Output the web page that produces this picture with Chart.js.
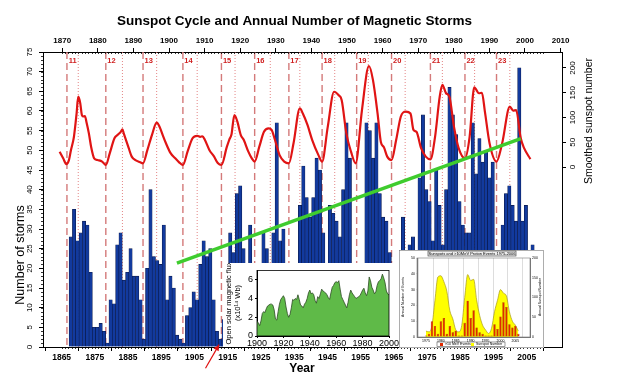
<!DOCTYPE html>
<html>
<head>
<meta charset="utf-8">
<script src="https://cdn.jsdelivr.net/npm/chart.js@4.4.1/dist/chart.umd.min.js"></script>
<style>
  html, body { margin: 0; padding: 0; background: #fff; }
  #wrap { position: relative; width: 618px; height: 386px; }
  #wrap canvas { position: absolute; }
  #fluxBox { position: absolute; left: 223px; top: 263px; width: 177px; height: 84px; background: #fff; }
  #protonBox { position: absolute; left: 399px; top: 250px; width: 145px; height: 98px; background: #fff; }
</style>
</head>
<body>
<div id="wrap">
  <canvas id="main" width="618" height="386"></canvas>
  <div id="fluxBox"><canvas id="flux" width="177" height="84"></canvas></div>
  <div id="protonBox"><canvas id="proton" width="145" height="98"></canvas></div>
</div>
<script>
// ---- main chart data ----
const stormStartYear = 1868;
const stormCounts = [
  28, 35, 27, 29, 32, 31, 19, 5, 5, 6,
  4, 1, 12, 11, 26, 29, 17, 19, 25, 18,
  18, 12, 2, 20, 40, 23, 22, 21, 31, 12,
  18, 15, 3, 2, 1, 8, 10, 14, 12, 21,
  27, 23, 25, 12, 4, 2, 7, 16, 29, 24,
  39, 41, 25, 15, 31, 12, 8, 10, 29, 25,
  15, 29, 57, 27, 30, 12, 6, 10, 18, 36,
  46, 38, 33, 38, 48, 45, 29, 16, 36, 34,
  32, 28, 40, 57, 48, 18, 14, 10, 20, 57,
  55, 48, 57, 39, 33, 32, 24, 10, 8, 12,
  33, 18, 26, 28, 15, 43, 59, 40, 37, 27,
  45, 36, 26, 40, 66, 59, 54, 37, 31, 29,
  29, 57, 44, 53, 47, 50, 43, 47, 15, 20,
  31, 39, 41, 36, 32, 71, 32, 36, 24, 26
];

const sunspotYears = [
  1864.4, 1865.5, 1866.4, 1867.2, 1867.8, 1868.7, 1869.5, 1870.0, 1870.6, 1871.1,
  1871.6, 1872.0, 1872.5, 1873.2, 1873.9, 1874.8, 1875.8, 1877.2, 1878.3, 1879.5,
  1880.9, 1881.9, 1882.8, 1883.3, 1883.7, 1884.2, 1885.2, 1886.1, 1887.5, 1888.5,
  1889.5, 1890.8, 1892.2, 1893.6, 1894.5, 1895.4, 1896.4, 1897.8, 1899.2, 1900.3,
  1901.5, 1902.9, 1904.4, 1905.8, 1906.7, 1907.4, 1908.1, 1909.5, 1910.9, 1912.0,
  1913.1, 1914.7, 1915.5, 1916.1, 1917.0, 1917.9, 1918.9, 1919.8, 1921.2, 1922.2,
  1923.1, 1924.5, 1925.9, 1927.3, 1928.2, 1929.2, 1930.6, 1932.0, 1933.4, 1934.8,
  1936.7, 1937.6, 1939.0, 1940.4, 1942.3, 1943.4, 1945.1, 1947.0, 1948.4, 1949.3,
  1950.7, 1952.1, 1953.5, 1955.4, 1957.5, 1958.7, 1960.1, 1961.1, 1962.0, 1963.0,
  1964.3, 1965.7, 1967.1, 1968.6, 1970.0, 1970.9, 1971.8, 1973.2, 1974.6, 1976.0,
  1977.4, 1978.8, 1979.6, 1980.7, 1981.7, 1983.1, 1984.5, 1986.4, 1987.8, 1989.2,
  1990.6, 1991.5, 1992.4, 1993.8, 1995.9, 1997.6, 1999.9, 2000.9, 2001.8, 2003.2,
  2004.2, 2006.1
];
const sunspotValues = [
  31, 17, 6, 14, 34, 61, 108, 142, 129, 105,
  102, 103, 90, 68, 40, 17.5, 14, 11, 4, 28,
  58, 65, 71, 76, 68, 58, 38, 21, 13, 10,
  7.5, 34, 65, 89.5, 81, 65, 48, 28, 17.5, 10,
  4, 31, 58, 63, 61, 62, 55, 34, 21, 8,
  4, 40, 56, 65, 105, 91.5, 65, 55, 31, 18,
  11, 41, 71, 78, 75, 55, 24, 11, 7.5, 48,
  118.5, 108, 85, 55, 24, 11, 81, 152, 145, 135,
  68, 31, 7.5, 115, 204, 176, 108, 50, 40, 21,
  14, 55, 102, 112, 108, 75, 71, 38, 21, 15.5,
  61, 142, 166, 149, 142, 81, 38, 17.5, 61, 161,
  149, 150, 112, 48, 11, 48, 122, 114, 115, 58,
  38, 16
];

const cycleNumbers = [11, 12, 13, 14, 15, 16, 17, 18, 19, 20, 21, 22, 23];
const cycleMinYears = [1866.6, 1878.3, 1889.5, 1901.5, 1913.1, 1923.1, 1933.4, 1943.4, 1953.8, 1964.3, 1976.0, 1986.4, 1995.9];
const cycleMaxYears = [1870.0, 1883.3, 1893.6, 1905.8, 1917.2, 1927.8, 1936.7, 1947.2, 1957.3, 1968.4, 1979.6, 1989.3, 1999.9];

const trendYears = [1899.7, 2003.2];
const trendValues = [21.3, 53];

const bottomTicks = [1865, 1875, 1885, 1895, 1905, 1915, 1925, 1935, 1945, 1955, 1965, 1975, 1985, 1995, 2005];
const topTicks = [1870, 1880, 1890, 1900, 1910, 1920, 1930, 1940, 1950, 1960, 1970, 1980, 1990, 2000, 2010];
const stormTicks = [0, 5, 10, 15, 20, 25, 30, 35, 40, 45, 50, 55, 60, 65, 70, 75];
const sunspotTicks = [0, 50, 100, 150, 200];

// ---- inset 1: open solar flux ----
const fluxYears = [];
for (let y = 1900; y <= 2000; y++) fluxYears.push(y);
const fluxValues = [
  1.6, 1.4, 1.1, 1.6, 2.4, 2.6, 2.5, 2.9, 3.2, 3.3,
  3.4, 3.4, 3.3, 2.8, 1.8, 1.7, 2.6, 3.4, 3.9, 4.1,
  4.3, 4.0, 3.1, 2.4, 2.0, 2.3, 3.0, 3.9, 3.8, 4.0,
  3.9, 4.4, 3.9, 3.3, 3.2, 3.0, 3.4, 3.6, 4.0, 4.6,
  4.9, 4.5, 4.6, 4.4, 3.8, 3.5, 4.2, 4.0, 4.5, 5.0,
  4.8, 4.7, 4.6, 4.4, 4.1, 3.9, 4.6, 5.2, 5.4, 5.7,
  5.8, 5.7, 5.9, 5.0, 4.2, 3.9, 3.6, 3.3, 3.0, 3.6,
  4.4, 4.9, 4.6, 4.4, 4.2, 4.0, 4.1, 4.2, 4.3, 4.6,
  4.9, 5.1, 4.6, 4.3, 4.8, 6.3, 5.9, 5.2, 4.9, 4.5,
  4.7, 5.4, 5.8, 5.9, 6.1, 6.6, 6.2, 5.7, 4.8, 4.5,
  4.4
];
const fluxTicksX = [1900, 1920, 1940, 1960, 1980, 2000];
const fluxTicksY = [0, 2, 4, 6];

// ---- inset 2: sunspots and proton events ----
const protonYears = [];
for (let y = 1975; y <= 2006; y++) protonYears.push(y);
const protonEvents = [1, 2, 10, 7, 2, 10, 12, 2, 7, 3, 4, 1, 1, 9, 23, 12, 17, 6, 3, 2, 1, 1, 1, 8, 5, 13, 22, 19, 8, 6, 7, 2];
const insetSunspots = [15, 13, 28, 92, 152, 155, 140, 116, 67, 46, 18, 13, 29, 100, 158, 143, 146, 94, 55, 30, 18, 9, 22, 64, 93, 120, 111, 104, 64, 40, 30, 15];
const protonTicksX = [1975, 1980, 1985, 1990, 1995, 2000, 2005];
const protonTicksL = [0, 10, 20, 30, 40, 50];
const protonTicksR = [0, 50, 100, 150, 200];

const FONT = '"Liberation Sans", Arial, Helvetica, sans-serif';
Chart.defaults.font.family = FONT;
Chart.defaults.color = '#000';

function setTicks(list) {
  return function (scale) { scale.ticks = list.map(v => ({ value: v })); };
}

const cycleMarks = {
  id: 'cycleMarks',
  beforeDatasetsDraw(chart) {
    const { ctx, chartArea } = chart;
    const x = chart.scales.x;
    ctx.save();
    ctx.lineWidth = 1.4;
    ctx.strokeStyle = '#d47a7a';
    ctx.setLineDash([7, 4]);
    cycleMinYears.forEach(yr => {
      const px = x.getPixelForValue(yr);
      ctx.beginPath(); ctx.moveTo(px, chartArea.top); ctx.lineTo(px, chartArea.bottom); ctx.stroke();
    });
    ctx.lineWidth = 0.8;
    ctx.strokeStyle = '#d66';
    ctx.setLineDash([1, 2]);
    cycleMaxYears.forEach(yr => {
      const px = x.getPixelForValue(yr);
      ctx.beginPath(); ctx.moveTo(px, chartArea.top); ctx.lineTo(px, chartArea.bottom); ctx.stroke();
    });
    ctx.setLineDash([]);
    ctx.fillStyle = '#d02020';
    ctx.font = 'bold 7.5px ' + FONT;
    ctx.textAlign = 'center';
    ctx.textBaseline = 'middle';
    cycleNumbers.forEach((n, i) => {
      ctx.fillText(String(n), x.getPixelForValue(cycleMinYears[i] + 1.7), chartArea.top + 9);
    });
    ctx.restore();
  }
};

const decor = {
  id: 'decor',
  afterDraw(chart) {
    const { ctx, chartArea } = chart;
    const x = chart.scales.x, y = chart.scales.y;
    ctx.save();
    ctx.strokeStyle = '#000';
    ctx.lineWidth = 0.8;
    // minor ticks, one per year and one per storm
    for (let yr = 1865; yr <= 2010; yr++) {
      const px = Math.round(x.getPixelForValue(yr)) + 0.5;
      ctx.beginPath(); ctx.moveTo(px, chartArea.bottom); ctx.lineTo(px, chartArea.bottom + 2); ctx.stroke();
      ctx.beginPath(); ctx.moveTo(px, chartArea.top); ctx.lineTo(px, chartArea.top + 2); ctx.stroke();
    }
    for (let v = 0; v <= 75; v++) {
      const py = Math.round(y.getPixelForValue(v)) + 0.5;
      ctx.beginPath(); ctx.moveTo(chartArea.left, py); ctx.lineTo(chartArea.left - 2, py); ctx.stroke();
    }
    // titles
    ctx.fillStyle = '#000';
    ctx.textAlign = 'center';
    ctx.textBaseline = 'middle';
    ctx.font = 'bold 13.5px ' + FONT;
    ctx.fillText('Sunspot Cycle and Annual Number of Magnetic Storms', 294.5, 21);
    ctx.font = 'bold 12px ' + FONT;
    ctx.fillText('Year', 302, 369);
    ctx.font = '12.5px ' + FONT;
    ctx.save();
    ctx.translate(21, 255); ctx.rotate(-Math.PI / 2);
    ctx.fillText('Number of storms', 0, 0);
    ctx.restore();
    ctx.font = '10.5px ' + FONT;
    ctx.save();
    ctx.translate(589, 121); ctx.rotate(-Math.PI / 2);
    ctx.fillText('Smoothed sunspot number', 0, 0);
    ctx.restore();
    // red arrow pointing at the 1913 minimum
    const x0 = x.getPixelForValue(1908.3), y0 = y.getPixelForValue(-5.4);
    const x1 = x.getPixelForValue(1912.4), y1 = y.getPixelForValue(0.6);
    ctx.strokeStyle = '#e01010';
    ctx.fillStyle = '#e01010';
    ctx.lineWidth = 1.2;
    ctx.beginPath(); ctx.moveTo(x0, y0); ctx.lineTo(x1, y1); ctx.stroke();
    const a = Math.atan2(y1 - y0, x1 - x0);
    ctx.beginPath();
    ctx.moveTo(x1, y1);
    ctx.lineTo(x1 - 6 * Math.cos(a) + 3 * Math.sin(a), y1 - 6 * Math.sin(a) - 3 * Math.cos(a));
    ctx.lineTo(x1 - 6 * Math.cos(a) - 3 * Math.sin(a), y1 - 6 * Math.sin(a) + 3 * Math.cos(a));
    ctx.closePath(); ctx.fill();
    ctx.restore();
  }
};

// bars in the source sit a quarter year left of the year mark
const barShift = -0.25;

new Chart(document.getElementById('main'), {
  data: {
    datasets: [
      {
        type: 'line',
        data: trendYears.map((yr, i) => ({ x: yr, y: trendValues[i] })),
        xAxisID: 'x', yAxisID: 'y',
        borderColor: '#3fcc2e', borderWidth: 3.5, pointRadius: 0
      },
      {
        type: 'line',
        data: sunspotYears.map((yr, i) => ({ x: yr, y: sunspotValues[i] })),
        xAxisID: 'x', yAxisID: 'y2',
        borderColor: '#e01414', borderWidth: 2.2, pointRadius: 0,
        cubicInterpolationMode: 'monotone'
      },
      {
        type: 'bar',
        data: stormCounts.map((v, i) => ({ x: stormStartYear + i + barShift, y: v })),
        xAxisID: 'x', yAxisID: 'y',
        backgroundColor: '#123a9e', borderColor: '#0a1848', borderWidth: 0.6,
        barPercentage: 1, categoryPercentage: 1, borderSkipped: 'start'
      }
    ]
  },
  options: {
    responsive: false,
    animation: false,
    devicePixelRatio: 1,
    layout: { padding: 0 },
    plugins: { legend: { display: false }, tooltip: { enabled: false }, title: { display: false } },
    scales: {
      x: {
        type: 'linear', position: 'bottom', min: 1864.6, max: 2010.4,
        afterBuildTicks: setTicks(bottomTicks),
        afterFit: s => { s.height = 39; },
        ticks: { font: { size: 8.5, weight: 'bold' }, padding: 2, maxRotation: 0, autoSkip: false, callback: v => String(v) },
        grid: { drawOnChartArea: false, tickLength: 4, tickColor: '#000' },
        border: { color: '#000', width: 1 }
      },
      xTop: {
        type: 'linear', position: 'top', min: 1864.6, max: 2010.4,
        afterBuildTicks: setTicks(topTicks),
        afterFit: s => { s.height = 52; },
        ticks: { font: { size: 8, weight: 'bold' }, padding: 2, maxRotation: 0, autoSkip: false, callback: v => String(v) },
        grid: { drawOnChartArea: false, tickLength: 4, tickColor: '#000' },
        border: { color: '#000', width: 1 }
      },
      y: {
        type: 'linear', position: 'left', min: 0, max: 75,
        afterBuildTicks: setTicks(stormTicks),
        afterFit: s => { s.width = 43; },
        ticks: { font: { size: 8 }, padding: 5, minRotation: 90, maxRotation: 90, crossAlign: 'center', autoSkip: false, callback: v => String(v) },
        grid: { drawOnChartArea: false, tickLength: 4, tickColor: '#000' },
        border: { color: '#000', width: 1 }
      },
      y2: {
        type: 'linear', position: 'right', min: -363.6, max: 232.3,
        afterBuildTicks: setTicks(sunspotTicks),
        afterFit: s => { s.width = 56; },
        ticks: { font: { size: 8 }, padding: 0, minRotation: 90, maxRotation: 90, crossAlign: 'center', autoSkip: false, callback: v => String(v) },
        grid: { drawOnChartArea: false, tickLength: 4, tickColor: '#000' },
        border: { color: '#000', width: 1 }
      }
    }
  },
  plugins: [cycleMarks, decor]
});

// ---- inset 1 ----
const fluxFrame = {
  id: 'fluxFrame',
  afterDraw(chart) {
    const { ctx, chartArea: a } = chart;
    ctx.save();
    ctx.strokeStyle = '#000';
    ctx.lineWidth = 0.8;
    ctx.strokeRect(a.left, a.top, a.right - a.left, a.bottom - a.top);
    ctx.fillStyle = '#000';
    ctx.textAlign = 'center';
    ctx.textBaseline = 'middle';
    ctx.font = '7.5px ' + FONT;
    ctx.translate(6, 40); ctx.rotate(-Math.PI / 2);
    ctx.fillText('Open solar magnetic flux', 0, 0);
    ctx.fillText('(x10\u00B9\u2074 Wb)', 0, 9);
    ctx.restore();
  }
};

new Chart(document.getElementById('flux'), {
  type: 'line',
  data: {
    datasets: [{
      data: fluxYears.map((yr, i) => ({ x: yr, y: fluxValues[i] })),
      fill: 'origin', backgroundColor: '#5fba48', borderColor: '#2d4a24', borderWidth: 0.8,
      pointRadius: 0, tension: 0
    }]
  },
  options: {
    responsive: false, animation: false, devicePixelRatio: 1,
    layout: { padding: { top: 5, right: 11, left: 0, bottom: 0 } },
    plugins: { legend: { display: false }, tooltip: { enabled: false } },
    scales: {
      x: {
        type: 'linear', min: 1900, max: 2000,
        afterBuildTicks: setTicks(fluxTicksX),
        afterFit: s => { s.height = 11; },
        ticks: { font: { size: 9 }, padding: 0, maxRotation: 0, autoSkip: false, callback: v => String(v) },
        grid: { drawOnChartArea: false, tickLength: 2, tickColor: '#000' },
        border: { color: '#000' }
      },
      y: {
        type: 'linear', min: 0, max: 7,
        afterBuildTicks: setTicks(fluxTicksY),
        afterFit: s => { s.width = 34; },
        ticks: { font: { size: 9 }, padding: 2, callback: v => String(v) },
        grid: { drawOnChartArea: false, tickLength: 2, tickColor: '#000' },
        border: { color: '#000' }
      }
    }
  },
  plugins: [fluxFrame]
});

// ---- inset 2 ----
const protonDecor = {
  id: 'protonDecor',
  afterDraw(chart) {
    const { ctx, chartArea: a } = chart;
    ctx.save();
    ctx.strokeStyle = '#777';
    ctx.lineWidth = 0.6;
    ctx.strokeRect(a.left, a.top, a.right - a.left, a.bottom - a.top);
    ctx.strokeRect(0.5, 0.5, 144, 97);
    // title box
    ctx.fillStyle = '#eee';
    ctx.fillRect(29, 1, 88, 5);
    ctx.strokeStyle = '#333';
    ctx.strokeRect(29, 1, 88, 5);
    ctx.fillStyle = '#000';
    ctx.font = '4px ' + FONT;
    ctx.textAlign = 'center';
    ctx.textBaseline = 'middle';
    ctx.fillText('Sunspots and >10MeV Proton Events 1975-2006', 73, 3.7);
    // legend
    ctx.strokeStyle = '#555';
    ctx.strokeRect(38, 92, 68, 4.5);
    ctx.fillStyle = '#e02a00'; ctx.fillRect(41, 93, 3, 3);
    ctx.fillStyle = '#ffff00'; ctx.fillRect(72, 93, 3, 3);
    ctx.fillStyle = '#000';
    ctx.textAlign = 'left';
    ctx.font = '3.5px ' + FONT;
    ctx.fillText('>10 MeV Events', 46, 94.5);
    ctx.fillText('Sunspot Number', 77, 94.5);
    // axis titles
    ctx.textAlign = 'center';
    ctx.save(); ctx.translate(4, 47); ctx.rotate(-Math.PI / 2); ctx.fillText('Annual Number of Events', 0, 0); ctx.restore();
    ctx.save(); ctx.translate(141, 47); ctx.rotate(-Math.PI / 2); ctx.fillText('Annual Sunspot Number', 0, 0); ctx.restore();
    ctx.restore();
  }
};

new Chart(document.getElementById('proton'), {
  data: {
    datasets: [
      {
        type: 'bar',
        data: protonYears.map((yr, i) => ({ x: yr, y: protonEvents[i] })),
        yAxisID: 'yL',
        backgroundColor: '#e02a00', borderColor: '#8a1800', borderWidth: 0.4,
        barPercentage: 0.8, categoryPercentage: 1
      },
      {
        type: 'line',
        data: protonYears.map((yr, i) => ({ x: yr, y: insetSunspots[i] })),
        yAxisID: 'yR',
        fill: 'origin', backgroundColor: '#ffff00', borderColor: '#a89a1a', borderWidth: 0.7,
        pointRadius: 0, cubicInterpolationMode: 'monotone'
      }
    ]
  },
  options: {
    responsive: false, animation: false, devicePixelRatio: 1,
    layout: { padding: { top: 8, left: 0, right: 0, bottom: 0 } },
    plugins: { legend: { display: false }, tooltip: { enabled: false } },
    scales: {
      x: {
        type: 'linear', min: 1974.7, max: 2007.2,
        afterBuildTicks: setTicks(protonTicksX),
        afterFit: s => { s.height = 11; },
        ticks: { font: { size: 3.5 }, padding: 1, maxRotation: 0, autoSkip: false, callback: v => String(v) },
        grid: { drawOnChartArea: true, color: '#bbb', lineWidth: 0.5, tickLength: 1 },
        border: { color: '#777' }
      },
      yL: {
        type: 'linear', position: 'left', min: 0, max: 50,
        afterBuildTicks: setTicks(protonTicksL),
        afterFit: s => { s.width = 18; },
        ticks: { font: { size: 3.5 }, padding: 1, callback: v => String(v) },
        grid: { drawOnChartArea: false, tickLength: 1 },
        border: { color: '#777' }
      },
      yR: {
        type: 'linear', position: 'right', min: 0, max: 200,
        afterBuildTicks: setTicks(protonTicksR),
        afterFit: s => { s.width = 14; },
        ticks: { font: { size: 3.5 }, padding: 1, callback: v => String(v) },
        grid: { drawOnChartArea: false, tickLength: 1 },
        border: { color: '#777' }
      }
    }
  },
  plugins: [protonDecor]
});
</script>
</body>
</html>
